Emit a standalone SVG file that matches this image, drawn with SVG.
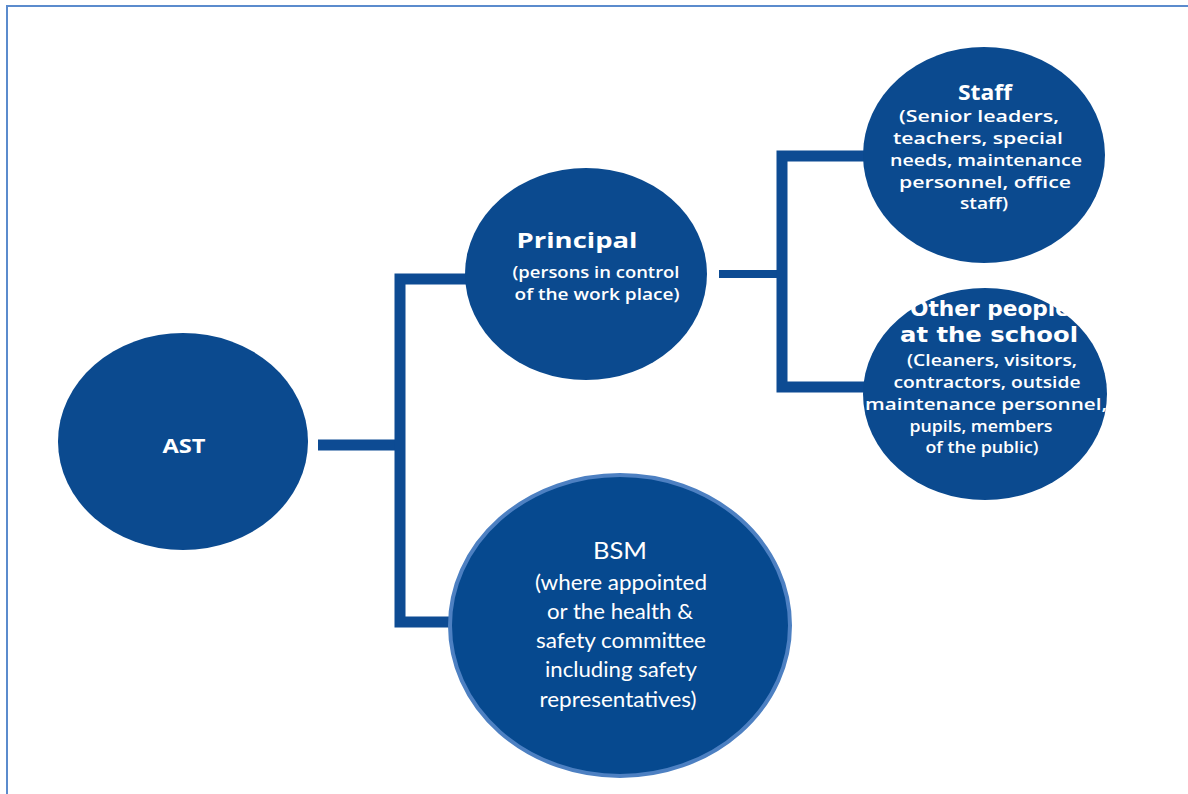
<svg xmlns="http://www.w3.org/2000/svg" width="1188" height="794" viewBox="0 0 1188 794">
<style>
.node{fill:#0b4a8f}
.bsm{fill:#06498f;stroke:#4d80c2;stroke-width:4}
.conn{stroke:#0d4b93;stroke-width:11;fill:none;stroke-linejoin:miter;stroke-linecap:butt}
.b{font-family:"Open Sans","DejaVu Sans",sans-serif;font-weight:bold;fill:#ffffff;text-anchor:middle}
.t{font-family:"DejaVu Sans",sans-serif;font-weight:bold;fill:#ffffff;text-anchor:middle;font-size:21px}
.s{font-family:"Open Sans","DejaVu Sans",sans-serif;font-weight:600;fill:#ffffff;text-anchor:middle;font-size:16px}
.r{font-family:Lato,"Open Sans",sans-serif;fill:#ffffff;text-anchor:middle}
</style>
<rect x="0" y="0" width="1188" height="794" fill="#ffffff"/>
<path d="M7,794 V6 H1188" fill="none" stroke="#5b8bcd" stroke-width="2"/>
<g id="connectors">
<path class="conn" d="M318,445 H400"/>
<path class="conn" d="M470,279 H400 V622 H452"/>
<path class="conn" d="M719,274 H782" style="stroke-width:8"/>
<path class="conn" d="M866,156 H782 V387 H866"/>
</g>
<g id="ast">
<ellipse class="node" cx="183" cy="441.5" rx="125" ry="108.5"/>
<text class="b" x="184" y="453" font-size="20" textLength="43" lengthAdjust="spacingAndGlyphs">AST</text>
</g>
<g id="principal">
<ellipse class="node" cx="586" cy="274" rx="121" ry="106"/>
<text class="b" x="577" y="248" font-size="22" textLength="121" lengthAdjust="spacingAndGlyphs">Principal</text>
<text class="s" x="596" y="278" textLength="167" lengthAdjust="spacingAndGlyphs">(persons in control</text>
<text class="s" x="597" y="300" textLength="165" lengthAdjust="spacingAndGlyphs">of the work place)</text>
</g>
<g id="staff">
<ellipse class="node" cx="984" cy="155" rx="121" ry="108"/>
<text class="b" x="985" y="100" font-size="22" textLength="54" lengthAdjust="spacingAndGlyphs">Staff</text>
<text class="s" x="979" y="122" textLength="160" lengthAdjust="spacingAndGlyphs">(Senior leaders,</text>
<text class="s" x="978" y="144" textLength="170" lengthAdjust="spacingAndGlyphs">teachers, special</text>
<text class="s" x="986" y="166" textLength="192" lengthAdjust="spacingAndGlyphs">needs, maintenance</text>
<text class="s" x="985" y="188" textLength="172" lengthAdjust="spacingAndGlyphs">personnel, office</text>
<text class="s" x="984" y="209" textLength="48" lengthAdjust="spacingAndGlyphs">staff)</text>
</g>
<g id="other">
<ellipse class="node" cx="985" cy="394" rx="122" ry="106"/>
<text class="t" x="990" y="316" textLength="160" lengthAdjust="spacingAndGlyphs">Other people</text>
<text class="t" x="989" y="342" textLength="178" lengthAdjust="spacingAndGlyphs">at the school</text>
<text class="s" x="992" y="366" textLength="170" lengthAdjust="spacingAndGlyphs">(Cleaners, visitors,</text>
<text class="s" x="987" y="388" textLength="187" lengthAdjust="spacingAndGlyphs">contractors, outside</text>
<text class="s" x="986" y="410" textLength="242" lengthAdjust="spacingAndGlyphs">maintenance personnel,</text>
<text class="s" x="981" y="432" textLength="143" lengthAdjust="spacingAndGlyphs">pupils, members</text>
<text class="s" x="982" y="453" textLength="113" lengthAdjust="spacingAndGlyphs">of the public)</text>
</g>
<g id="bsm">
<ellipse class="bsm" cx="620" cy="625.5" rx="170" ry="150.5"/>
<text class="r" x="620" y="559" font-size="23" textLength="54" lengthAdjust="spacingAndGlyphs">BSM</text>
<text class="r" x="621" y="590" font-size="21" textLength="172" lengthAdjust="spacingAndGlyphs">(where appointed</text>
<text class="r" x="620" y="619" font-size="21" textLength="146" lengthAdjust="spacingAndGlyphs">or the health &amp;</text>
<text class="r" x="621" y="648" font-size="21" textLength="170" lengthAdjust="spacingAndGlyphs">safety committee</text>
<text class="r" x="621" y="677" font-size="21" textLength="152" lengthAdjust="spacingAndGlyphs">including safety</text>
<text class="r" x="618" y="707" font-size="21" textLength="157" lengthAdjust="spacingAndGlyphs">representatives)</text>
</g>
</svg>
